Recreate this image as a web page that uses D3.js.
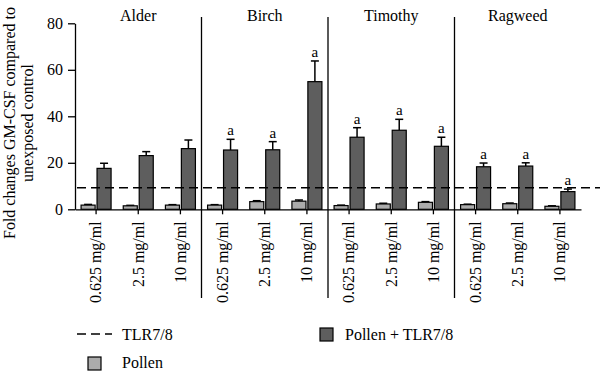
<!DOCTYPE html>
<html>
<head>
<meta charset="utf-8">
<script src="https://cdn.jsdelivr.net/npm/d3@7"></script>
<style>
  body { margin: 0; background: #fff; }
  svg text { font-family: "Liberation Serif", "Times New Roman", serif; }
</style>
</head>
<body>
<div id="chart"></div>
<script>
// values
var pollens = ["Alder", "Birch", "Timothy", "Ragweed"];
var concs = ["0.625 mg/ml", "2.5 mg/ml", "10 mg/ml"];
var pollenOnly = [1.8, 1.5, 1.8, 1.8, 3.3, 3.5, 1.6, 2.3, 3.0, 2.0, 2.4, 1.3];
var pollenOnlyErr = [0.3, 0.2, 0.2, 0.2, 0.4, 0.5, 0.2, 0.3, 0.3, 0.2, 0.3, 0.2];
var pollenTlr = [17.6, 23.1, 26.1, 25.5, 25.6, 54.9, 31.0, 34.0, 27.1, 18.3, 18.6, 7.6];
var pollenTlrErr = [2.2, 1.7, 3.7, 4.6, 3.5, 8.9, 4.1, 4.7, 3.9, 1.6, 1.4, 1.1];
var signif = [false, false, false, true, true, true, true, true, true, true, true, true];
var tlrLevel = 9.3;
var yTicks = [0, 20, 40, 60, 80];

var width = 600, height = 372;
var serif = "Liberation Serif";
var lightFill = "#ababab", darkFill = "#5e5e5e";

var svg = d3.select("#chart").append("svg")
    .attr("width", width)
    .attr("height", height)
    .attr("font-family", serif);

// one slot per pollen/concentration pair
var cats = [];
pollens.forEach(function(p, i) {
    concs.forEach(function(c, j) {
        cats.push({ pollen: p, conc: c, i: i * 3 + j });
    });
});

var x = d3.scaleBand()
    .domain(cats.map(function(d) { return d.i; }))
    .range([75, 581])
    .padding(0);

var y = d3.scaleLinear()
    .domain([0, 80])
    .range([209.3, 23.3]);

var sub = d3.scaleBand()
    .domain(["pollen", "combo"])
    .range([-15, 15])
    .paddingInner(0.12);

// y axis
var yAxis = svg.append("g")
    .attr("transform", "translate(75,0)")
    .call(d3.axisLeft(y).tickValues(yTicks).tickSize(7).tickSizeOuter(0).tickPadding(5));
yAxis.attr("font-family", serif).attr("font-size", 16);
yAxis.selectAll("text").attr("fill", "#000");
yAxis.selectAll("line, path").attr("stroke", "#000").attr("stroke-width", 1.3);

// x axis
var xAxis = svg.append("g")
    .attr("transform", "translate(0," + y(0) + ")")
    .call(d3.axisBottom(x).tickSize(5).tickSizeOuter(0)
        .tickFormat(function(d) { return cats[d].conc; }));
xAxis.attr("font-family", serif).attr("font-size", 16);
xAxis.selectAll("line, path").attr("stroke", "#000").attr("stroke-width", 1.3);
xAxis.selectAll("text")
    .attr("fill", "#000")
    .attr("transform", "rotate(-90)")
    .attr("text-anchor", "end")
    .attr("x", -12)
    .attr("y", 0)
    .attr("dy", "0.33em");

// group dividers and titles
pollens.forEach(function(p, i) {
    var x0 = x(i * 3), x1 = x(i * 3 + 2) + x.bandwidth();
    if (i > 0) {
        svg.append("line")
            .attr("x1", x0).attr("x2", x0)
            .attr("y1", 17).attr("y2", 298)
            .attr("stroke", "#000").attr("stroke-width", 1.3);
    }
    svg.append("text")
        .attr("x", (x0 + x1) / 2)
        .attr("y", 21)
        .attr("text-anchor", "middle")
        .attr("font-size", 16)
        .text(p);
});

// bars
var slot = svg.append("g").selectAll("g")
    .data(cats)
    .enter().append("g")
    .attr("transform", function(d) { return "translate(" + (x(d.i) + x.bandwidth() / 2) + ",0)"; });

function drawSeries(key, vals, errs, fill) {
    var cx = sub(key) + sub.bandwidth() / 2;
    slot.append("line")
        .attr("x1", cx).attr("x2", cx)
        .attr("y1", function(d) { return y(vals[d.i]); })
        .attr("y2", function(d) { return y(vals[d.i] + errs[d.i]); })
        .attr("stroke", "#000").attr("stroke-width", 1.5);
    slot.append("line")
        .attr("x1", cx - 4).attr("x2", cx + 4)
        .attr("y1", function(d) { return y(vals[d.i] + errs[d.i]); })
        .attr("y2", function(d) { return y(vals[d.i] + errs[d.i]); })
        .attr("stroke", "#000").attr("stroke-width", 1.5);
    slot.append("rect")
        .attr("x", sub(key))
        .attr("width", sub.bandwidth())
        .attr("y", function(d) { return y(vals[d.i]); })
        .attr("height", function(d) { return y(0) - y(vals[d.i]); })
        .attr("fill", fill)
        .attr("stroke", "#000")
        .attr("stroke-width", 1.2);
}
drawSeries("pollen", pollenOnly, pollenOnlyErr, lightFill);
drawSeries("combo", pollenTlr, pollenTlrErr, darkFill);

slot.filter(function(d) { return signif[d.i]; })
    .append("text")
    .attr("x", sub("combo") + sub.bandwidth() / 2)
    .attr("y", function(d) { return y(pollenTlr[d.i] + pollenTlrErr[d.i]) - 4; })
    .attr("text-anchor", "middle")
    .attr("font-size", 15)
    .text("a");

// TLR7/8 alone
svg.append("line")
    .attr("x1", 77).attr("x2", width)
    .attr("y1", y(tlrLevel)).attr("y2", y(tlrLevel))
    .attr("stroke", "#000").attr("stroke-width", 1.6)
    .attr("stroke-dasharray", "9,5");

// y label
var ylab = svg.append("text")
    .attr("transform", "translate(0,123) rotate(-90)")
    .attr("text-anchor", "middle")
    .attr("font-size", 16);
ylab.append("tspan").attr("x", 0).attr("y", 15).text("Fold changes GM-CSF compared to");
ylab.append("tspan").attr("x", 0).attr("y", 33).text("unexposed control");

// legend
var leg = svg.append("g").attr("font-size", 16);
leg.append("line")
    .attr("x1", 77).attr("x2", 112).attr("y1", 334).attr("y2", 334)
    .attr("stroke", "#000").attr("stroke-width", 1.6).attr("stroke-dasharray", "9,5");
leg.append("text").attr("x", 122).attr("y", 340).text("TLR7/8");
leg.append("rect")
    .attr("x", 88).attr("y", 357).attr("width", 13).attr("height", 13)
    .attr("fill", lightFill).attr("stroke", "#000").attr("stroke-width", 1.2);
leg.append("text").attr("x", 122).attr("y", 368).text("Pollen");
leg.append("rect")
    .attr("x", 320).attr("y", 328).attr("width", 13).attr("height", 13)
    .attr("fill", darkFill).attr("stroke", "#000").attr("stroke-width", 1.2);
leg.append("text").attr("x", 345).attr("y", 340).text("Pollen + TLR7/8");
</script>
</body>
</html>
